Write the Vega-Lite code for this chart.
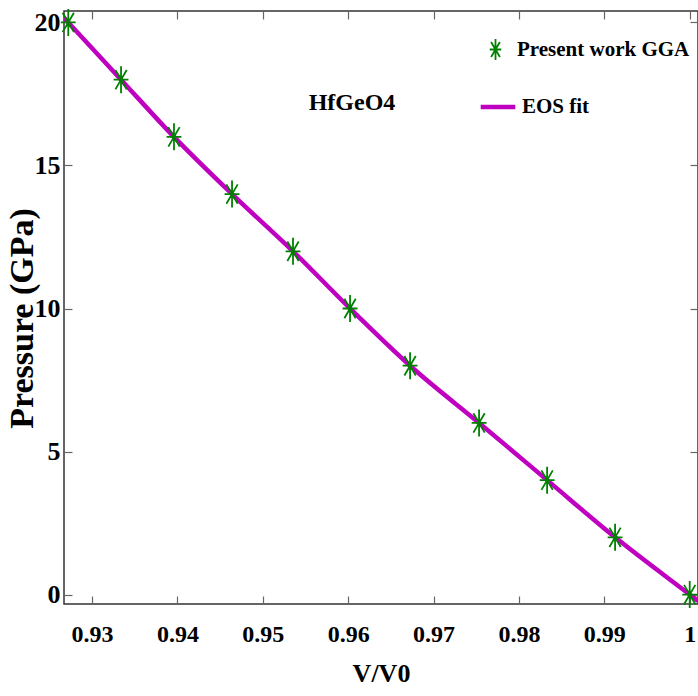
{
  "$schema": "https://vega.github.io/schema/vega-lite/v6.json",
  "autosize": "none",
  "width": 634,
  "height": 593,
  "padding": {"left": 64, "top": 11, "right": 0, "bottom": 92},
  "background": "white",
  "config": {
    "view": {"stroke": "#333333", "strokeWidth": 1.5},
    "font": "Liberation Serif",
    "axis": {"domain": false, "grid": false, "tickColor": "#666666", "tickWidth": 1.2}
  },
  "datasets": {
    "pts": [
      {"v": 0.92722, "p": 20, "series": "Present work GGA"},
      {"v": 0.93340, "p": 18, "series": "Present work GGA"},
      {"v": 0.93960, "p": 16, "series": "Present work GGA"},
      {"v": 0.94640, "p": 14, "series": "Present work GGA"},
      {"v": 0.95354, "p": 12, "series": "Present work GGA"},
      {"v": 0.96022, "p": 10, "series": "Present work GGA"},
      {"v": 0.96725, "p": 8, "series": "Present work GGA"},
      {"v": 0.97533, "p": 6, "series": "Present work GGA"},
      {"v": 0.98330, "p": 4, "series": "Present work GGA"},
      {"v": 0.99126, "p": 2, "series": "Present work GGA"},
      {"v": 1.0, "p": 0, "series": "Present work GGA"}
    ],
    "fit": [
      {"v": 0.92672, "p": 20.16, "fit": "EOS fit"},
      {"v": 0.92722, "p": 20.0, "fit": "EOS fit"},
      {"v": 0.93340, "p": 18.0, "fit": "EOS fit"},
      {"v": 0.93960, "p": 16.0, "fit": "EOS fit"},
      {"v": 0.94640, "p": 14.0, "fit": "EOS fit"},
      {"v": 0.95354, "p": 12.0, "fit": "EOS fit"},
      {"v": 0.96022, "p": 10.0, "fit": "EOS fit"},
      {"v": 0.96725, "p": 8.0, "fit": "EOS fit"},
      {"v": 0.97533, "p": 6.0, "fit": "EOS fit"},
      {"v": 0.98330, "p": 4.0, "fit": "EOS fit"},
      {"v": 0.99126, "p": 2.0, "fit": "EOS fit"},
      {"v": 1.0, "p": 0.0, "fit": "EOS fit"},
      {"v": 1.00097, "p": -0.22, "fit": "EOS fit"}
    ],
    "label": [
      {"v": 0.96045, "p": 17.2, "t": "HfGeO4"}
    ]
  },
  "resolve": {"axis": {"x": "independent", "y": "independent"}},
  "layer": [
    {
      "data": {"name": "fit"},
      "mark": {"type": "line", "clip": true, "strokeWidth": 4.5, "interpolate": "monotone"},
      "encoding": {
        "x": {
          "field": "v", "type": "quantitative",
          "scale": {"domain": [0.92672, 1.00097], "nice": false, "zero": false},
          "axis": {
            "orient": "bottom", "values": [0.93, 0.94, 0.95, 0.96, 0.97, 0.98, 0.99, 1.0],
            "format": ".2~f", "tickSize": -8, "labelPadding": 26,
            "labelFont": "Liberation Serif", "labelFontWeight": "bold", "labelFontSize": 24, "labelColor": "black",
            "title": "V/V0", "titleFont": "Liberation Serif", "titleFontWeight": "bold", "titleFontSize": 26,
            "titleColor": "black", "titlePadding": 14
          }
        },
        "y": {
          "field": "p", "type": "quantitative",
          "scale": {"domain": [-0.33, 20.4], "nice": false, "zero": false},
          "axis": {
            "orient": "left", "values": [0, 5, 10, 15, 20], "tickSize": -8, "labelPadding": 12,
            "labelFont": "Liberation Serif", "labelFontWeight": "bold", "labelFontSize": 26, "labelColor": "black",
            "title": "Pressure (GPa)", "titleFont": "Liberation Serif", "titleFontWeight": "bold", "titleFontSize": 34,
            "titleColor": "black", "titleX": -42, "titleY": 307, "titleAngle": -90, "titleAlign": "center", "titleBaseline": "middle"
          }
        },
        "color": {
          "field": "fit", "type": "nominal",
          "scale": {"domain": ["EOS fit"], "range": ["#c000c0"]},
          "legend": {
            "orient": "none", "legendX": 414, "legendY": 76, "title": null,
            "symbolType": "stroke", "symbolStrokeWidth": 4.5, "symbolSize": 1200,
            "labelFont": "Liberation Serif", "labelFontWeight": "bold", "labelFontSize": 21, "labelColor": "black",
            "labelOffset": 4, "labelLimit": 400
          }
        }
      }
    },
    {
      "data": {"name": "pts"},
      "mark": {"type": "point", "filled": false, "stroke": "#008000", "strokeWidth": 1.8, "size": 729, "opacity": 1},
      "encoding": {
        "x": {
          "field": "v", "type": "quantitative",
          "axis": {"orient": "top", "values": [0.93, 0.94, 0.95, 0.96, 0.97, 0.98, 0.99, 1.0], "labels": false, "title": null, "tickSize": -8}
        },
        "y": {
          "field": "p", "type": "quantitative",
          "axis": {"orient": "right", "values": [0, 5, 10, 15, 20], "labels": false, "title": null, "tickSize": -8}
        },
        "shape": {
          "field": "series", "type": "nominal",
          "scale": {"domain": ["Present work GGA"], "range": ["M0,-1L0,1M-0.55,0L0.55,0M-0.42,-0.72L0.42,0.72M-0.42,0.72L0.42,-0.72"]},
          "legend": {
            "orient": "none", "legendX": 420, "legendY": 27, "title": null,
            "symbolSize": 440, "symbolStrokeColor": "#008000", "symbolStrokeWidth": 1.8, "symbolFillColor": "transparent",
            "labelFont": "Liberation Serif", "labelFontWeight": "bold", "labelFontSize": 21, "labelColor": "black",
            "labelOffset": 10, "labelLimit": 400
          }
        }
      }
    },
    {
      "data": {"name": "label"},
      "mark": {"type": "text", "font": "Liberation Serif", "fontWeight": "bold", "fontSize": 24, "color": "black"},
      "encoding": {
        "x": {"field": "v", "type": "quantitative", "axis": null},
        "y": {"field": "p", "type": "quantitative", "axis": null},
        "text": {"field": "t"}
      }
    }
  ]
}
